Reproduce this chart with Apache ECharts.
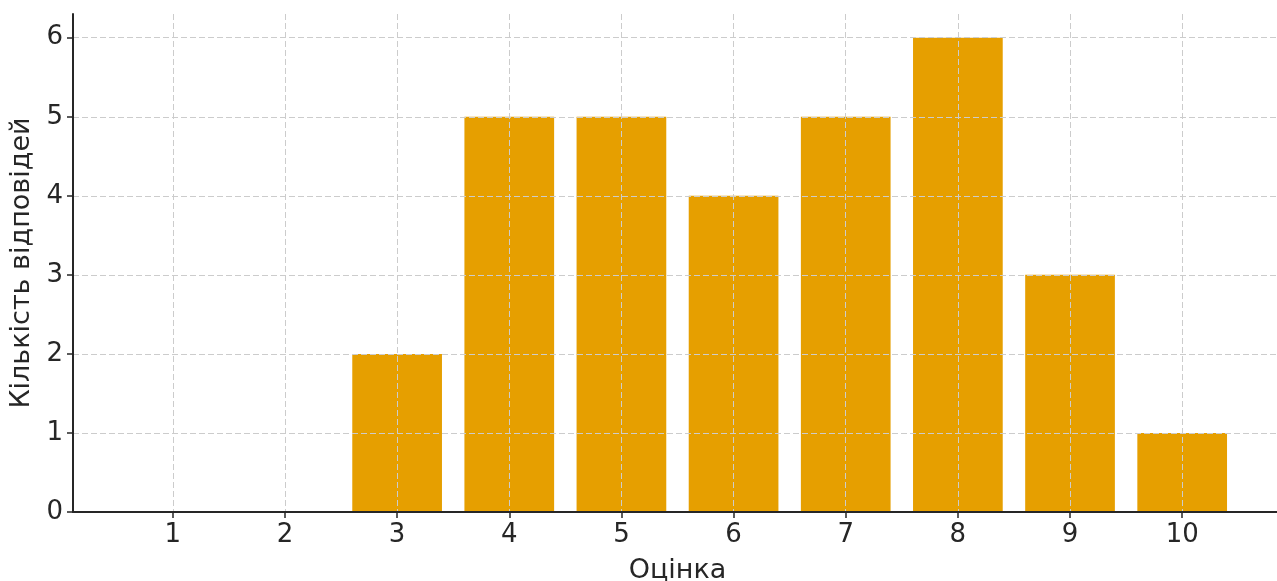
<!DOCTYPE html>
<html>
<head>
<meta charset="utf-8">
<script src="https://cdn.jsdelivr.net/npm/echarts@6/dist/echarts.min.js"></script>
<style>html,body{margin:0;padding:0;background:#fff}#c{width:1277px;height:581px}</style>
</head>
<body>
<div id="c"></div>
<script>
const categories = [1, 2, 3, 4, 5, 6, 7, 8, 9, 10];
const counts = [0, 0, 2, 5, 5, 4, 5, 6, 3, 1];
const yTicks = [0, 1, 2, 3, 4, 5, 6];
const xTitle = 'Оцінка';
const yTitle = 'Кількість відповідей';

const font = 'DejaVu Sans';
const textColor = '#262626';
const chart = echarts.init(document.getElementById('c'), null, {renderer: 'canvas'});
chart.setOption({
  animation: false,
  backgroundColor: '#ffffff',
  grid: {left: 73, width: 1209, top: 14, bottom: 69, containLabel: false, outerBoundsMode: 'none'},
  xAxis: {
    type: 'value',
    min: 0.11, max: 10.89,
    z: 5,
    name: xTitle,
    nameLocation: 'middle',
    nameGap: 45,
    nameTextStyle: {fontFamily: font, fontSize: 27, color: textColor},
    axisLine: {show: true, onZero: false, lineStyle: {color: '#262626', width: 2}},
    axisTick: {show: true, length: 6, customValues: categories, lineStyle: {color: '#262626', width: 1.5}},
    axisLabel: {customValues: categories, fontFamily: font, fontSize: 26, color: textColor, margin: 10},
    splitLine: {show: true, lineStyle: {color: '#cccccc', width: 1, type: [6, 3]}}
  },
  yAxis: {
    type: 'value',
    min: 0, max: 6.3,
    z: 5,
    name: yTitle,
    nameLocation: 'middle',
    nameGap: 33,
    nameRotate: 90,
    nameTextStyle: {fontFamily: font, fontSize: 27, color: textColor},
    axisLine: {show: true, lineStyle: {color: '#262626', width: 2}},
    axisTick: {show: true, length: 6, customValues: yTicks, lineStyle: {color: '#262626', width: 1.5}},
    axisLabel: {customValues: yTicks, fontFamily: font, fontSize: 26, color: textColor, margin: 10},
    splitLine: {show: true, lineStyle: {color: '#cccccc', width: 1, type: [6, 3]}}
  },
  series: [{
    type: 'bar',
    z: 2,
    barWidth: 89.7,
    itemStyle: {color: '#E69F00'},
    data: categories.map((c, i) => [c, counts[i]])
  }]
});
</script>
</body>
</html>
